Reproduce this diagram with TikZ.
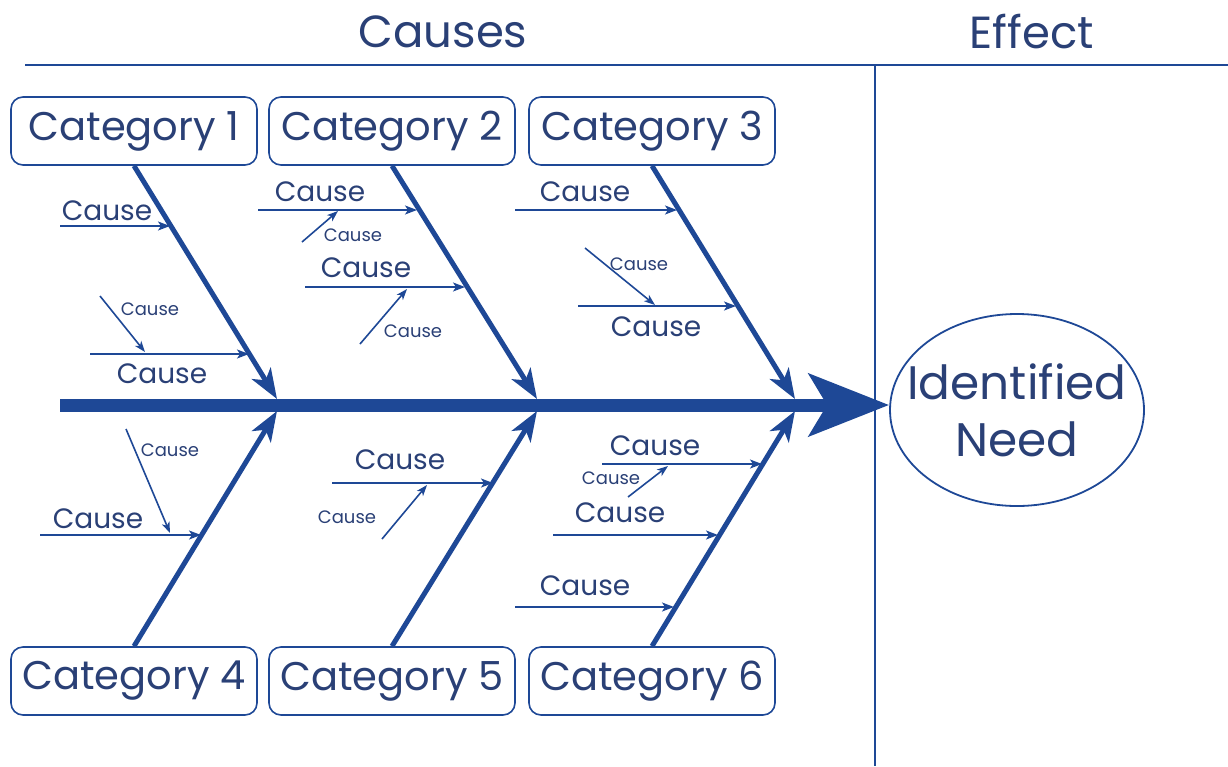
\documentclass[tikz,border=0pt]{standalone}
\usepackage{fontspec}
\setmainfont{Poppins}
\usetikzlibrary{arrows.meta, shapes.geometric}
\definecolor{fishblue}{RGB}{30,72,150}
\definecolor{inkblue}{RGB}{42,64,118}
\tikzstyle{catbox}=[draw=fishblue, line width=1.6pt, rounded corners=12pt, minimum width=246pt, minimum height=68pt, inner sep=0pt, text=inkblue, font=\fontsize{40}{40}\selectfont]
\tikzstyle{head}=[text=inkblue, inner sep=0pt, font=\fontsize{45}{45}\selectfont]
\tikzstyle{cause}=[text=inkblue, inner sep=0pt, font=\fontsize{28}{28}\selectfont]
\tikzstyle{subcause}=[text=inkblue, inner sep=0pt, font=\fontsize{18}{18}\selectfont]
\tikzstyle{bone}=[draw=fishblue, line width=5pt, -{Stealth[length=30pt, width=22pt, inset=8pt]}]
\tikzstyle{causearrow}=[draw=fishblue, line width=1.8pt, -{Stealth[length=12pt, width=9pt, inset=3pt]}]
\tikzstyle{subarrow}=[draw=fishblue, line width=1.6pt, -{Stealth[length=11pt, width=8pt, inset=3pt]}]
\tikzstyle{spine}=[draw=fishblue, line width=13pt, -{Stealth[length=80pt, width=62pt, inset=18pt]}]

\begin{document}
\begin{tikzpicture}[x=1pt, y=-1pt]
    \useasboundingbox (0,0) rectangle (1228,766);
    \draw[fishblue, line width=2pt] (25,65) -- (1228,65);
    \draw[fishblue, line width=2pt] (875,65) -- (875,766);
    \node[head] (causes) at (443,32) {Causes};
    \node[head] (effect) at (1032,32) {Effect};

    \node[catbox] (c1) at (134,131) {Category 1};
    \node[catbox] (c2) at (392,131) {Category 2};
    \node[catbox] (c3) at (652,131) {Category 3};
    \node[catbox] (c4) at (134,681) {Category 4};
    \node[catbox] (c5) at (392,681) {Category 5};
    \node[catbox] (c6) at (652,681) {Category 6};

    \node[ellipse, draw=fishblue, line width=1.8pt, minimum width=254pt, minimum height=192pt, inner xsep=-40pt, inner ysep=-10pt, text=inkblue, font=\fontsize{47}{57}\selectfont, align=center] (need) at (1017,410) {Identified\\Need};

    \coordinate (tail) at (60,405);
    \draw[spine] (tail) -- (tail -| need.west);

    \coordinate (j1) at (277,399);
    \coordinate (j2) at (537,399);
    \coordinate (j3) at (795,399);
    \coordinate (j4) at (277,411);
    \coordinate (j5) at (537,411);
    \coordinate (j6) at (795,411);
    \draw[bone] (c1.south) -- (j1);
    \draw[bone] (c2.south) -- (j2);
    \draw[bone] (c3.south) -- (j3);
    \draw[bone] (c4.north) -- (j4);
    \draw[bone] (c5.north) -- (j5);
    \draw[bone] (c6.north) -- (j6);

    \coordinate (a1s) at (60,226);   \coordinate (a1e) at (170,226);
    \coordinate (b1s) at (90,354);   \coordinate (b1e) at (249,354);
    \coordinate (s1s) at (100,296);  \coordinate (s1e) at (145,352);
    \draw[causearrow] (a1s) -- (a1e);
    \draw[causearrow] (b1s) -- (b1e);
    \draw[subarrow] (s1s) -- (s1e);
    \node[cause] (la1) at (107,211) {Cause};
    \node[cause] (lb1) at (162,374) {Cause};
    \node[subcause] (ls1) at (150,309) {Cause};

    \coordinate (a2s) at (258,210);  \coordinate (a2e) at (417,210);
    \coordinate (b2s) at (305,287);  \coordinate (b2e) at (465,287);
    \coordinate (s2s) at (302,242);  \coordinate (s2e) at (338,211);
    \coordinate (t2s) at (360,344);  \coordinate (t2e) at (407,289);
    \draw[causearrow] (a2s) -- (a2e);
    \draw[causearrow] (b2s) -- (b2e);
    \draw[subarrow] (s2s) -- (s2e);
    \draw[subarrow] (t2s) -- (t2e);
    \node[cause] (la2) at (320,192) {Cause};
    \node[cause] (lb2) at (366,268) {Cause};
    \node[subcause] (ls2) at (353,235) {Cause};
    \node[subcause] (lt2) at (413,331) {Cause};

    \coordinate (a3s) at (515,210);  \coordinate (a3e) at (677,210);
    \coordinate (b3s) at (578,306);  \coordinate (b3e) at (736,306);
    \coordinate (s3s) at (585,248);  \coordinate (s3e) at (655,305);
    \draw[causearrow] (a3s) -- (a3e);
    \draw[causearrow] (b3s) -- (b3e);
    \draw[subarrow] (s3s) -- (s3e);
    \node[cause] (la3) at (585,192) {Cause};
    \node[cause] (lb3) at (656,327) {Cause};
    \node[subcause] (ls3) at (639,264) {Cause};

    \coordinate (a4s) at (40,535);   \coordinate (a4e) at (201,535);
    \coordinate (s4s) at (126,429);  \coordinate (s4e) at (170,533);
    \draw[causearrow] (a4s) -- (a4e);
    \draw[subarrow] (s4s) -- (s4e);
    \node[cause] (la4) at (98,519) {Cause};
    \node[subcause] (ls4) at (170,450) {Cause};

    \coordinate (a5s) at (332,483);  \coordinate (a5e) at (493,483);
    \coordinate (s5s) at (382,539);  \coordinate (s5e) at (427,485);
    \draw[causearrow] (a5s) -- (a5e);
    \draw[subarrow] (s5s) -- (s5e);
    \node[cause] (la5) at (400,460) {Cause};
    \node[subcause] (ls5) at (347,517) {Cause};

    \coordinate (a6s) at (602,464);  \coordinate (a6e) at (762,464);
    \coordinate (b6s) at (553,535);  \coordinate (b6e) at (718,535);
    \coordinate (c6s) at (515,607);  \coordinate (c6e) at (674,607);
    \coordinate (s6s) at (628,497);  \coordinate (s6e) at (668,466);
    \draw[causearrow] (a6s) -- (a6e);
    \draw[causearrow] (b6s) -- (b6e);
    \draw[causearrow] (c6s) -- (c6e);
    \draw[subarrow] (s6s) -- (s6e);
    \node[cause] (la6) at (655,446) {Cause};
    \node[cause] (lb6) at (620,513) {Cause};
    \node[cause] (lc6) at (585,586) {Cause};
    \node[subcause] (ls6) at (611,478) {Cause};
\end{tikzpicture}
\end{document}
